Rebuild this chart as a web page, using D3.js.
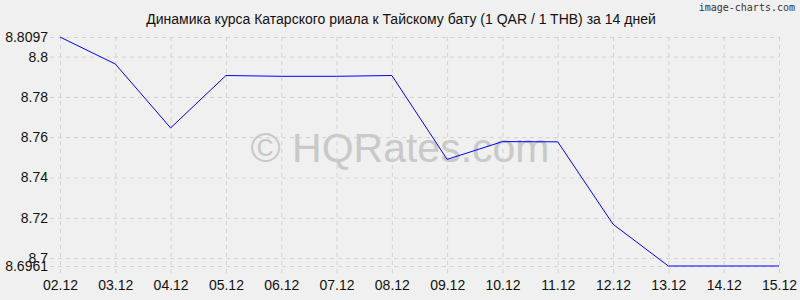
<!DOCTYPE html>
<html>
<head>
<meta charset="utf-8">
<script src="https://cdn.jsdelivr.net/npm/d3@7"></script>
<style>
    body { margin: 0; background: #f0f0f0; }
    svg { display: block; }
</style>
</head>
<body>
<svg id="chart"></svg>
<script>
// Динамика курса QAR / THB за 14 дней

const dates = ["02.12", "03.12", "04.12", "05.12", "06.12", "07.12", "08.12",
    "09.12", "10.12", "11.12", "12.12", "13.12", "14.12", "15.12"]
const rates = [8.8097, 8.7963, 8.7646, 8.7906, 8.7902, 8.7902, 8.7906,
    8.7490, 8.7578, 8.7577, 8.7168, 8.6961, 8.6961, 8.6961]
const yTicks = [8.6961, 8.7, 8.72, 8.74, 8.76, 8.78, 8.8, 8.8097]

const titleText = "Динамика курса Катарского риала к Тайскому бату (1 QAR / 1 THB) за 14 дней"

const width = 800
const height = 300
const margin = { top: 37, right: 21, bottom: 34, left: 60 }

const svg = d3.select("#chart")
    .attr("width", width)
    .attr("height", height)
    .style("font-family", "'Liberation Sans', Arial, sans-serif")

svg.append("rect")
    .attr("width", width)
    .attr("height", height)
    .attr("fill", "#f0f0f0")

const x = d3.scalePoint()
    .domain(dates)
    .range([margin.left, width - margin.right])

const y = d3.scaleLinear()
    .domain([d3.min(yTicks), d3.max(yTicks)])
    .range([height - margin.bottom, margin.top])

// watermark
svg.append("text")
    .attr("x", 400)
    .attr("y", 162)
    .attr("text-anchor", "middle")
    .attr("font-size", 41)
    .attr("fill", "#c9c9c9")
    .text("© HQRates.com")

// grid + axes
const xAxis = svg.append("g")
    .attr("transform", `translate(0,${margin.top})`)
    .call(d3.axisBottom(x)
        .tickSize(height - margin.top - margin.bottom + 7)
        .tickPadding(7))

const yAxis = svg.append("g")
    .attr("transform", `translate(${margin.left},0)`)
    .call(d3.axisLeft(y)
        .tickValues(yTicks)
        .tickFormat(d => String(d))
        .tickSizeInner(-(width - margin.left - margin.right))
        .tickSizeOuter(0)
        .tickPadding(12))

for (const g of [xAxis, yAxis]) {
    g.select(".domain").remove()
    g.selectAll(".tick line")
        .attr("stroke", "#d2d2d2")
        .attr("stroke-dasharray", "4,4")
    g.selectAll(".tick text")
        .attr("fill", "#111")
        .attr("font-size", 14)
        .style("font-family", "'Liberation Sans', Arial, sans-serif")
}

// extend y gridlines left a bit (tick marks)
yAxis.selectAll(".tick line")
    .attr("x1", -10)
    .attr("x2", width - margin.left - margin.right)

yAxis.selectAll(".tick text").attr("x", -12)

// line
const line = d3.line()
    .x((d, i) => x(dates[i]))
    .y(d => y(d))

svg.append("path")
    .datum(rates)
    .attr("fill", "none")
    .attr("stroke", "#0000ff")
    .attr("stroke-width", 1)
    .attr("d", line)

// title
svg.append("text")
    .attr("x", 401)
    .attr("y", 24)
    .attr("text-anchor", "middle")
    .attr("font-size", 14)
    .attr("fill", "#111")
    .text(titleText)

svg.append("text")
    .attr("x", 795)
    .attr("y", 11)
    .attr("text-anchor", "end")
    .attr("font-size", 10)
    .attr("fill", "#333")
    .style("font-family", "'DejaVu Sans Mono', monospace")
    .text("image-charts.com")
</script>
</body>
</html>
